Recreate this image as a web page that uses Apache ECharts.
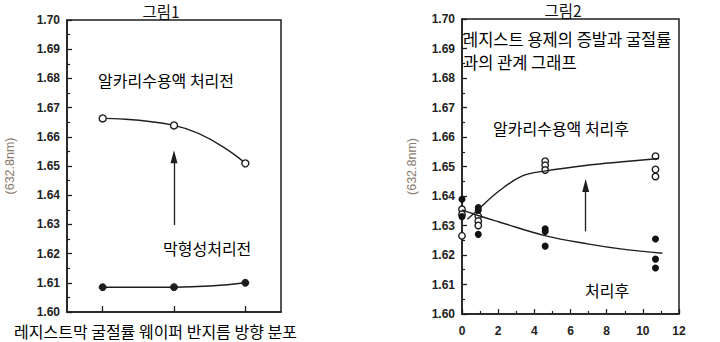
<!DOCTYPE html>
<html>
<head>
<meta charset="utf-8">
<script src="https://cdn.jsdelivr.net/npm/echarts@6/dist/echarts.min.js"></script>
<style>
  html, body { margin: 0; padding: 0; background: #ffffff; }
  #chart { width: 720px; height: 342px; }
</style>
</head>
<body>
<div id="chart"></div>
<script>
// ---------- DATA ----------
// Figure 1 (radial distribution across wafer)
const leftCategories = ['1', '2', '3'];
const beforeAlkali = [1.6663, 1.6639, 1.6509];   // 알카리수용액 처리전 (open circles)
const beforeFilm = [1.6085, 1.6085, 1.6100];     // 막형성처리전 (filled circles)
const leftArrow = [[1, 1.6298], [1, 1.6532]];

// Figure 2 (solvent evaporation vs refractive index)
const afterAlkaliPoints = [
  [0, 1.6355], [0, 1.6338], [0, 1.6265],
  [0.9, 1.6332], [0.9, 1.6315], [0.9, 1.6300],
  [4.6, 1.6518], [4.6, 1.6504], [4.6, 1.6488],
  [10.7, 1.6535], [10.7, 1.6490], [10.7, 1.6466]
];
const afterTreatPoints = [
  [0, 1.6389], [0, 1.6330],
  [0.9, 1.6361], [0.9, 1.6352], [0.9, 1.6270],
  [4.6, 1.6289], [4.6, 1.6280], [4.6, 1.6230],
  [10.7, 1.6254], [10.7, 1.6186], [10.7, 1.6156]
];
const afterAlkaliCurve = [
  [0.3, 1.6321], [0.94, 1.6357], [2.05, 1.6417], [3.34, 1.6468],
  [4.63, 1.6485], [7.02, 1.6505], [8.87, 1.6516], [10.9, 1.6527]
];
const afterTreatCurve = [
  [0, 1.6353], [0.94, 1.6333], [2.05, 1.6312], [4.63, 1.6265],
  [7.02, 1.6237], [8.87, 1.6220], [11.08, 1.6206]
];
const rightArrow = [[6.84, 1.6280], [6.84, 1.6436]];

const yTickMin = 1.60, yTickMax = 1.70, yTickStep = 0.01;
const xTickMin = 0, xTickMax = 12, xTickStep = 2;

// ---------- TEXT ----------
const title1 = '그림1';
const title2 = '그림2';
const yName = '(632.8nm)';
const labelBeforeAlkali = '알카리수용액 처리전';
const labelBeforeFilm = '막형성처리전';
const caption1 = '레지스트막 굴절률 웨이퍼 반지름 방향 분포';
const caption2a = '레지스트 용제의 증발과 굴절률';
const caption2b = '과의 관계 그래프';
const labelAfterAlkali = '알카리수용액 처리후';
const labelAfter = '처리후';

// ---------- STYLE ----------
const ink = '#1e1e1e';
const kfont = '"Noto Sans CJK KR", "Noto Sans", sans-serif';
const nfont = '"Liberation Sans", Arial, sans-serif';
const kSize = '16px ';

const chart = echarts.init(document.getElementById('chart'), null, { renderer: 'svg' });

function yAxisCfg(gridIndex, nameGap) {
  return {
    type: 'value', gridIndex,
    min: yTickMin, max: yTickMax, interval: yTickStep,
    axisLine: { show: true, lineStyle: { color: ink, width: 1.5 } },
    axisTick: { show: true, inside: true, length: 5, lineStyle: { color: ink, width: 1.3 } },
    minorTick: { show: true, splitNumber: 2, length: 3, lineStyle: { color: ink, width: 1.2 } },
    splitLine: { show: false },
    axisLabel: {
      color: '#222', fontFamily: nfont, fontSize: 12, fontWeight: 'bold', margin: 7,
      formatter: v => v.toFixed(2)
    },
    name: yName, nameLocation: 'middle', nameRotate: 90, nameGap,
    nameTextStyle: { color: '#8a7a6c', fontFamily: nfont, fontSize: 12.5 }
  };
}

function arrowMark(coords) {
  return {
    silent: true,
    symbol: ['none', 'triangle'],
    symbolSize: [7, 13],
    label: { show: false },
    lineStyle: { color: ink, width: 1.3, type: 'solid' },
    data: [[{ coord: coords[0] }, { coord: coords[1] }]]
  };
}

const option = {
  backgroundColor: '#ffffff',
  animation: false,
  grid: [
    { left: 67, right: 439, top: 20, bottom: 30, show: true, borderColor: ink, borderWidth: 1.5 },
    { left: 462, right: 41, top: 19, bottom: 28, show: true, borderColor: ink, borderWidth: 1.5 }
  ],
  xAxis: [
    {
      type: 'category', gridIndex: 0, data: leftCategories, boundaryGap: true,
      axisLine: { show: true, lineStyle: { color: ink, width: 1.5 } },
      axisTick: { show: true, inside: true, alignWithLabel: true, length: 6, lineStyle: { color: ink, width: 1.3 } },
      axisLabel: { show: false }
    },
    {
      type: 'value', gridIndex: 1, min: xTickMin, max: xTickMax, interval: xTickStep,
      axisLine: { show: true, lineStyle: { color: ink, width: 1.5 } },
      axisTick: { show: true, inside: true, length: 5, lineStyle: { color: ink, width: 1.3 } },
      minorTick: { show: true, splitNumber: 2, length: 3, lineStyle: { color: ink, width: 1.2 } },
      splitLine: { show: false },
      axisLabel: { color: '#222', fontFamily: nfont, fontSize: 12, fontWeight: 'bold', margin: 11 }
    }
  ],
  yAxis: [yAxisCfg(0, 51), yAxisCfg(1, 44)],
  series: [
    {
      name: labelBeforeAlkali, type: 'line', xAxisIndex: 0, yAxisIndex: 0,
      data: beforeAlkali, smooth: 0.5,
      symbol: 'circle', symbolSize: 7,
      itemStyle: { color: '#fff', borderColor: ink, borderWidth: 1.4 },
      lineStyle: { color: ink, width: 1.4 },
      markLine: arrowMark(leftArrow)
    },
    {
      name: labelBeforeFilm, type: 'line', xAxisIndex: 0, yAxisIndex: 0,
      data: beforeFilm, smooth: 0.5,
      symbol: 'circle', symbolSize: 7,
      itemStyle: { color: ink, borderColor: ink, borderWidth: 1 },
      lineStyle: { color: ink, width: 1.4 }
    },
    {
      name: labelAfterAlkali + ' curve', type: 'line', xAxisIndex: 1, yAxisIndex: 1,
      data: afterAlkaliCurve, smooth: 0.4, showSymbol: false,
      lineStyle: { color: ink, width: 1.4 },
      markLine: arrowMark(rightArrow)
    },
    {
      name: labelAfter + ' curve', type: 'line', xAxisIndex: 1, yAxisIndex: 1,
      data: afterTreatCurve, smooth: 0.4, showSymbol: false,
      lineStyle: { color: ink, width: 1.4 }
    },
    {
      name: labelAfterAlkali, type: 'scatter', xAxisIndex: 1, yAxisIndex: 1,
      data: afterAlkaliPoints, symbol: 'circle', symbolSize: 6.5,
      itemStyle: { color: '#fff', borderColor: ink, borderWidth: 1.4, opacity: 1 }
    },
    {
      name: labelAfter, type: 'scatter', xAxisIndex: 1, yAxisIndex: 1,
      data: afterTreatPoints, symbol: 'circle', symbolSize: 7,
      itemStyle: { color: '#111', opacity: 1 }
    }
  ],
  graphic: [
    { type: 'text', x: 161, y: 11, style: { text: title1, fill: '#111', font: '15.5px ' + kfont, align: 'center', verticalAlign: 'middle' } },
    { type: 'text', x: 563, y: 10, style: { text: title2, fill: '#111', font: '15.5px ' + kfont, align: 'center', verticalAlign: 'middle' } },
    { type: 'text', x: 98, y: 80, style: { text: labelBeforeAlkali, fill: '#000', font: kSize + kfont, verticalAlign: 'middle' } },
    { type: 'text', x: 163, y: 248, style: { text: labelBeforeFilm, fill: '#000', font: kSize + kfont, verticalAlign: 'middle' } },
    { type: 'text', x: 14, y: 331, style: { text: caption1, fill: '#000', font: kSize + kfont, verticalAlign: 'middle' } },
    { type: 'text', x: 463, y: 39, style: { text: caption2a, fill: '#000', font: '16.5px ' + kfont, verticalAlign: 'middle' } },
    { type: 'text', x: 463, y: 62, style: { text: caption2b, fill: '#000', font: '16.5px ' + kfont, verticalAlign: 'middle' } },
    { type: 'text', x: 493, y: 128, style: { text: labelAfterAlkali, fill: '#000', font: kSize + kfont, verticalAlign: 'middle' } },
    { type: 'text', x: 585, y: 290, style: { text: labelAfter, fill: '#000', font: kSize + kfont, verticalAlign: 'middle' } }
  ]
};

chart.setOption(option);
</script>
</body>
</html>
